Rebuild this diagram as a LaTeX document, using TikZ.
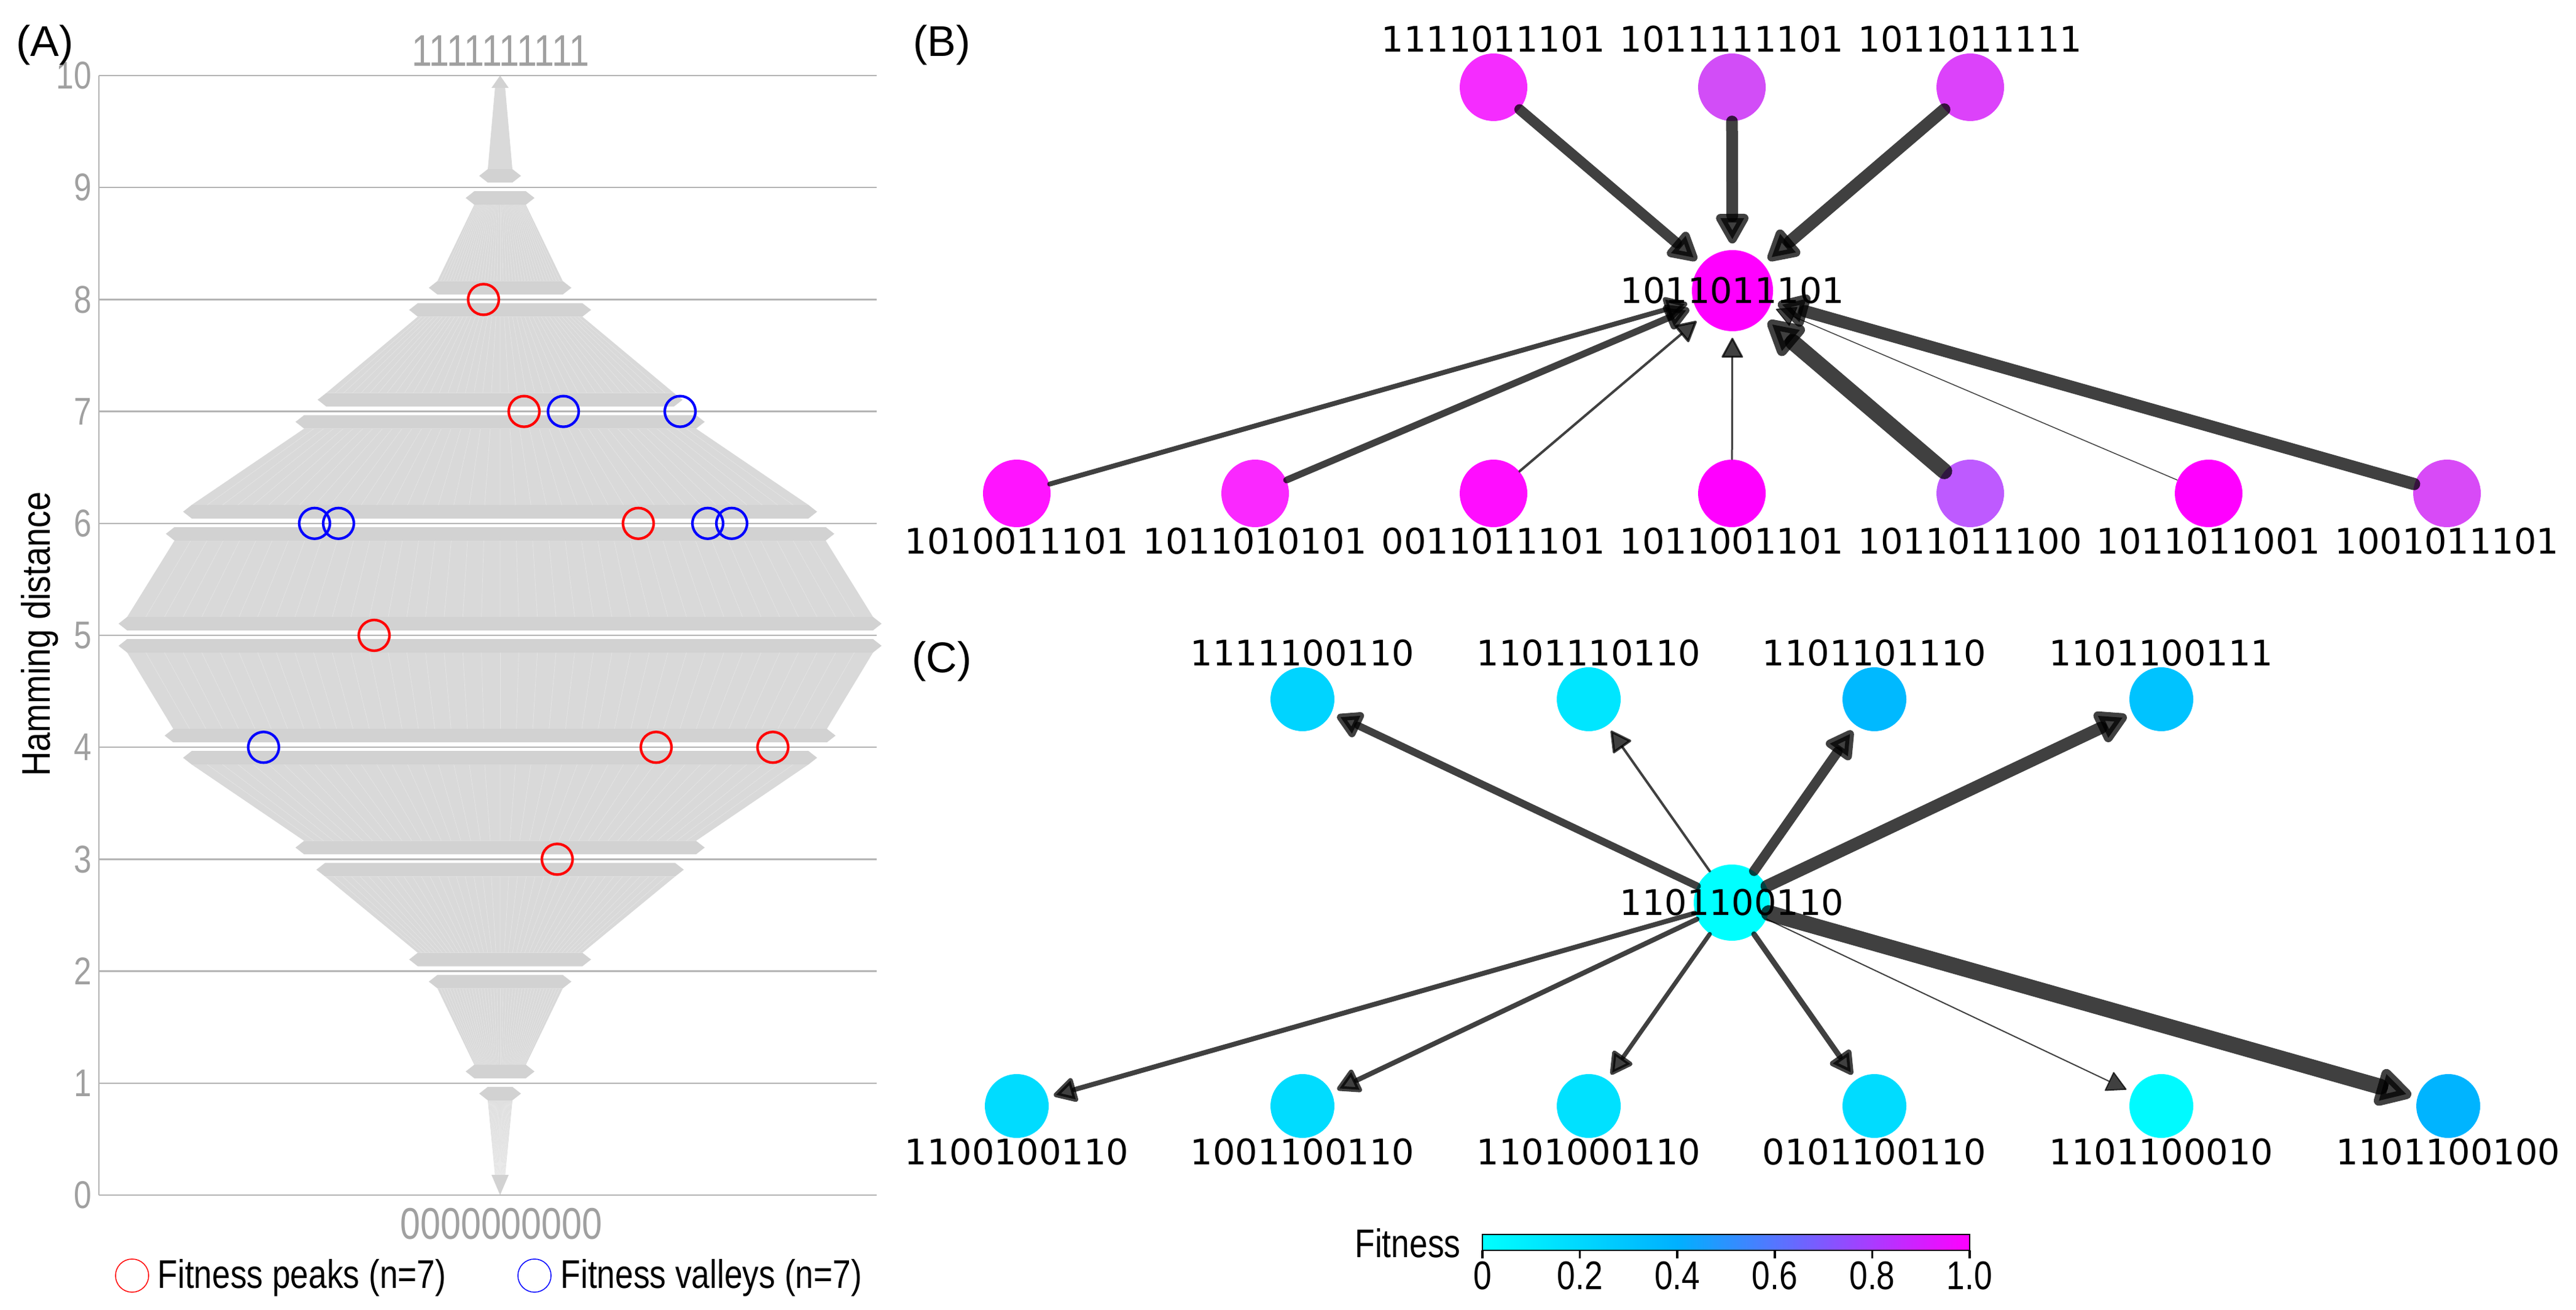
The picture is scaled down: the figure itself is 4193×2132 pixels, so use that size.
\documentclass[tikz,border=0pt]{standalone}
\usepackage{fontspec}
\setmainfont{Liberation Sans}
\newfontfamily\genofont{DejaVu Sans}
\usetikzlibrary{arrows.meta}

% Cores
\definecolor{fan}{HTML}{D9D9D9}
\definecolor{band}{HTML}{D2D2D2}
\definecolor{grid}{HTML}{B4B4B4}
\definecolor{axtext}{HTML}{A0A0A0}
\definecolor{peak}{HTML}{FF0000}
\definecolor{valley}{HTML}{0000FF}
\definecolor{fitlow}{HTML}{00FFFF}
\definecolor{fitmid}{HTML}{00B0FF}
\definecolor{fithigh}{HTML}{FF00FF}
% B
\definecolor{f1011011101}{HTML}{FF00FF}
\definecolor{f1111011101}{HTML}{F52CFF}
\definecolor{f1011111101}{HTML}{D24DF7}
\definecolor{f1011011111}{HTML}{DC42FA}
\definecolor{f1010011101}{HTML}{FF14FF}
\definecolor{f1011010101}{HTML}{FA28FF}
\definecolor{f0011011101}{HTML}{FF0DFF}
\definecolor{f1011001101}{HTML}{FF00FF}
\definecolor{f1011011100}{HTML}{BE5AFF}
\definecolor{f1011011001}{HTML}{FF00FF}
\definecolor{f1001011101}{HTML}{D84AF7}
% C
\definecolor{f1101100110}{HTML}{00FFFF}
\definecolor{f1111100110}{HTML}{00D4FF}
\definecolor{f1101110110}{HTML}{00E6FF}
\definecolor{f1101101110}{HTML}{00B9FF}
\definecolor{f1101100111}{HTML}{00C3FF}
\definecolor{f1100100110}{HTML}{00DCFF}
\definecolor{f1001100110}{HTML}{00DCFF}
\definecolor{f1101000110}{HTML}{00E1FF}
\definecolor{f0101100110}{HTML}{00DCFF}
\definecolor{f1101100010}{HTML}{00FAFF}
\definecolor{f1101100100}{HTML}{00B4FF}

\newcommand{\narrow}[1]{\scalebox{0.82}[1]{#1}}

\tikzset{
  panel/.style={font=\fontsize{19.9}{22}\selectfont, inner sep=0pt},
  lvl/.style={text=axtext, font=\fontsize{17.9}{19}\selectfont, anchor=east, inner sep=0pt},
  endtxt/.style={text=axtext, font=\fontsize{20.5}{22}\selectfont, inner sep=0pt},
  legtxt/.style={font=\fontsize{18.5}{20}\selectfont, inner sep=0pt},
  glabel/.style={font=\genofont\fontsize{16.3}{18}\selectfont, inner sep=0pt},
  geno/.style={circle, fill=f#1, inner sep=0pt, minimum size=11mm, label distance=0.8mm},
  genoc/.style={circle, fill=f#1, inner sep=0pt, minimum size=10.4mm, label distance=1mm},
  edge/.style={draw=black, opacity=0.75, line cap=round, shorten >=1mm,
    -{Triangle[length=3mm 1.4, width=3.2mm 1.4, round]}}
}

\begin{document}
\begin{tikzpicture}[x=0.1mm, y=-0.1mm]
    \useasboundingbox (0,0) rectangle (4193,2132);

    % (A) Leques
    \fill[fan] (806,140) -- (822,140) -- (834,275) -- (794,275) -- cycle;
    \fill[band] (800,143) -- (828,143) -- (814,123) -- cycle;
    \foreach \k/\a/\b in {9/42/102, 8/134/283, 7/319/502, 6/530/607, 5/607/532,
                          4/502/319, 3/285/134, 2/102/42, 1/20/8} {
        \pgfmathsetmacro{\yt}{1945-182.2*\k+28}
        \pgfmathsetmacro{\yb}{1945-182.2*(\k-1)-30}
        \fill[fan] (814-\a,\yt) -- (814+\a,\yt) -- (814+\b,\yb) -- (814-\b,\yb) -- cycle;
        \foreach \i in {1,...,39} {
            \draw[white, opacity=0.3, line width=0.2pt]
                (814-\a+\a/20*\i,\yt) -- (814-\b+\b/20*\i,\yb);
        }
    }
    \fill[band] (800,1912) -- (828,1912) -- (814,1945) -- cycle;
    % Faixas
    \foreach \k/\hu/\hl in {9/20/42, 8/102/134, 7/283/319, 6/502/530, 5/607/607,
                            4/532/502, 3/319/285, 2/134/102, 1/42/20} {
        \pgfmathsetmacro{\yk}{1945-182.2*\k}
        \fill[band] (814-\hu-14,\yk-19) -- (814-\hu,\yk-30) -- (814+\hu,\yk-30)
            -- (814+\hu+14,\yk-19) -- (814+\hu,\yk-8) -- (814-\hu,\yk-8) -- cycle;
        \fill[band] (814-\hl-14,\yk+17) -- (814-\hl,\yk+6) -- (814+\hl,\yk+6)
            -- (814+\hl+14,\yk+17) -- (814+\hl,\yk+28) -- (814-\hl,\yk+28) -- cycle;
    }
    % Grade
    \draw[grid, line width=0.25mm] (161,123) -- (161,1945);
    \foreach \k in {0,...,10} {
        \pgfmathsetmacro{\yk}{1945-182.2*\k}
        \draw[grid, line width=0.25mm] (161,\yk) -- (1427,\yk);
        \node[lvl] (tick\k) at (150,\yk) {\narrow{\k}};
    }
    \node[endtxt] (top) at (815,83) {\narrow{1111111111}};
    \node[endtxt] (bottom) at (816,1992) {\narrow{0000000000}};
    \node[legtxt, rotate=90] (ylab) at (65,1032) {\scalebox{0.86}[1]{Hamming distance}};
    % Picos e vales
    \foreach \x/\k in {787/8, 853/7, 1039/6, 609/5, 1068/4, 1258/4, 907/3}
        \draw[peak, line width=0.42mm] (\x,1945-182.2*\k) circle[radius=25];
    \foreach \x/\k in {917/7, 1107/7, 512/6, 551/6, 1152/6, 1191/6, 429/4}
        \draw[valley, line width=0.42mm] (\x,1945-182.2*\k) circle[radius=25];
    % Legenda
    \draw[peak, line width=0.15mm] (215,2076) circle[radius=27];
    \node[legtxt, anchor=west] (lpeak) at (256,2080) {\narrow{Fitness peaks (n=7)}};
    \draw[valley, line width=0.15mm] (870,2076) circle[radius=27];
    \node[legtxt, anchor=west] (lvalley) at (912,2080) {\narrow{Fitness valleys (n=7)}};
    \node[panel] (lblA) at (73,73) {(A)};

    % (B)
    \node[panel] (lblB) at (1533,73) {(B)};
    \node[geno=1011011101, minimum size=13.2mm] (B1011011101) at (2820,473) {};
    \foreach \n/\x in {1111011101/2431, 1011111101/2819, 1011011111/3207}
        \node[geno=\n, label={[glabel]above:\n}] (B\n) at (\x,142) {};
    \foreach \n/\x in {1010011101/1655, 1011010101/2043, 0011011101/2431, 1011001101/2819,
                       1011011100/3207, 1011011001/3595, 1001011101/3983}
        \node[geno=\n, label={[glabel]below:\n}] (B\n) at (\x,803) {};
    \foreach \n/\w in {1111011101/1.7, 1011111101/1.9, 1011011111/2.0, 1010011101/0.8,
                       1011010101/1.1, 0011011101/0.4, 1011001101/0.3, 1011011100/2.6,
                       1011011001/0.15, 1001011101/2.0}
        \draw[line width=\w mm, edge] (B\n) -- (B1011011101);
    \node[glabel] (tB) at (B1011011101) {1011011101};

    % (C)
    \node[panel] (lblC) at (1533,1076) {(C)};
    \node[genoc=1101100110, minimum size=12.4mm] (C1101100110) at (2819,1469) {};
    \foreach \n/\x in {1111100110/2120, 1101110110/2586, 1101101110/3051, 1101100111/3518}
        \node[genoc=\n, label={[glabel]above:\n}] (C\n) at (\x,1138) {};
    \foreach \n/\x in {1100100110/1655, 1001100110/2120, 1101000110/2586, 0101100110/3051,
                       1101100010/3518, 1101100100/3985}
        \node[genoc=\n, label={[glabel]below:\n}] (C\n) at (\x,1800) {};
    \foreach \n/\w in {1111100110/1.2, 1101110110/0.4, 1101101110/1.6, 1101100111/2.0,
                       1100100110/0.8, 1001100110/0.8, 1101000110/0.7, 0101100110/0.9,
                       1101100010/0.2, 1101100100/2.6}
        \draw[line width=\w mm, edge] (C1101100110) -- (C\n);
    \node[glabel] (tC) at (C1101100110) {1101100110};

    % Escala de cores
    \shade[left color=fitlow, right color=fitmid] (2413,2009) rectangle (2731,2035);
    \shade[left color=fitmid, right color=fithigh] (2730,2009) rectangle (3206,2035);
    \draw[line width=0.15mm] (2413,2009) rectangle (3206,2035);
    \node[legtxt, anchor=east] (lfit) at (2378,2023) {\narrow{Fitness}};
    \foreach \i/\t in {0/0, 1/0.2, 2/0.4, 3/0.6, 4/0.8, 5/1.0} {
        \draw[line width=0.35mm] (2413+158.6*\i,2035) -- (2413+158.6*\i,2048);
        \node[legtxt] (fit\i) at (2413+158.6*\i,2076) {\narrow{\t}};
    }
\end{tikzpicture}
\end{document}
